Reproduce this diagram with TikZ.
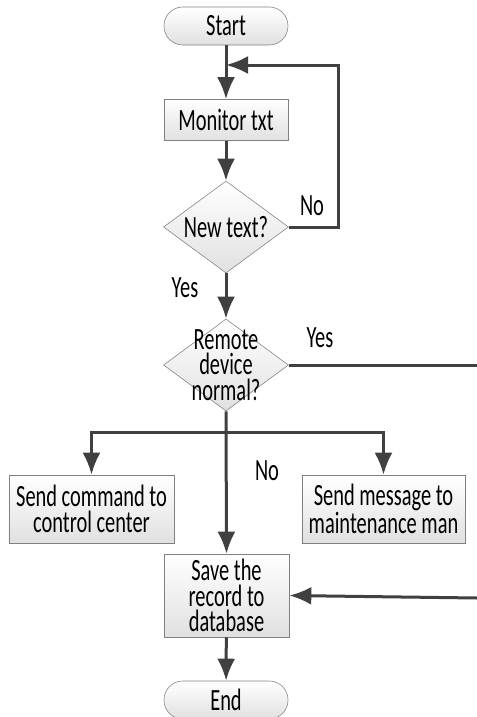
\documentclass[tikz,border=0pt]{standalone}
\usepackage{fontspec}
\setmainfont{Carlito}[FakeStretch=0.66]
\usetikzlibrary{shapes.geometric, arrows.meta, positioning}

\begin{document}
\begin{tikzpicture}[x=0.025cm, y=-0.025cm,%
  font=\fontsize{22pt}{18pt}\selectfont,%
  flow/.style={line width=0.075cm, draw=black!75, ->, >={Latex[length=0.55cm,width=0.45cm]}},%
  wire/.style={line width=0.075cm, draw=black!75},%
  terminal/.style={draw=black!50, rounded corners=0.47cm, top color=white, bottom color=black!12, minimum width=3.1cm, minimum height=0.95cm, inner sep=0pt},%
  process/.style={draw=black!50, top color=white, bottom color=black!12, align=center, inner sep=0pt},%
  decision/.style={diamond, aspect=1.36, draw=black!50, top color=white, bottom color=black!12, minimum width=3.125cm, minimum height=2.3cm, inner sep=0pt, align=center}%
]
  \useasboundingbox (0,0) rectangle (477,717);
  % Main column
  \node[terminal] (start) at (226,26) {Start};
  \node[process, minimum width=3.1cm, minimum height=1.025cm] (monitor) at (226,120) {Monitor txt};
  \node[decision] (newtext) at (226,227) {New text?};
  \node[decision, label={[align=center]center:Remote\\device\\normal?}] (remote) at (226,365) {};
  \node[process, minimum width=3.125cm, minimum height=2.075cm] (save) at (226.5,595.5) {Save the\\record to\\database};
  \node[terminal] (end) at (226,700) {End};
  % Side boxes
  \node[process, minimum width=4.125cm, minimum height=1.7cm] (command) at (91.5,509) {Send command to\\control center};
  \node[process, minimum width=4.075cm, minimum height=1.7cm] (message) at (383.5,509) {Send message to\\maintenance man};
  % Joints and free ends
  \coordinate (join) at (226,65);
  \coordinate (split) at (226,432);
  \coordinate (outyes) at (477,365);
  \coordinate (inyes) at (477,598);
  % Connectors
  \draw[flow] (start) -- (monitor);
  \draw[flow] (monitor) -- (newtext);
  \draw[flow] (newtext.east) -- ++(50,0) |- (join);
  \draw[flow] (newtext) -- (remote);
  \draw[wire] (remote.east) -- (outyes);
  \draw[flow] (remote.south) -- (save.north);
  \draw[flow] (split) -| (command.north);
  \draw[flow] (split) -| (message.north);
  \draw[flow] (inyes) -- (save.east);
  \draw[flow] (save) -- (end);
  % Branch labels
  \node (nonew) at (312,206) {No};
  \node (yesnew) at (185,288) {Yes};
  \node (yesremote) at (320,338) {Yes};
  \node (noremote) at (267,471) {No};
\end{tikzpicture}
\end{document}
